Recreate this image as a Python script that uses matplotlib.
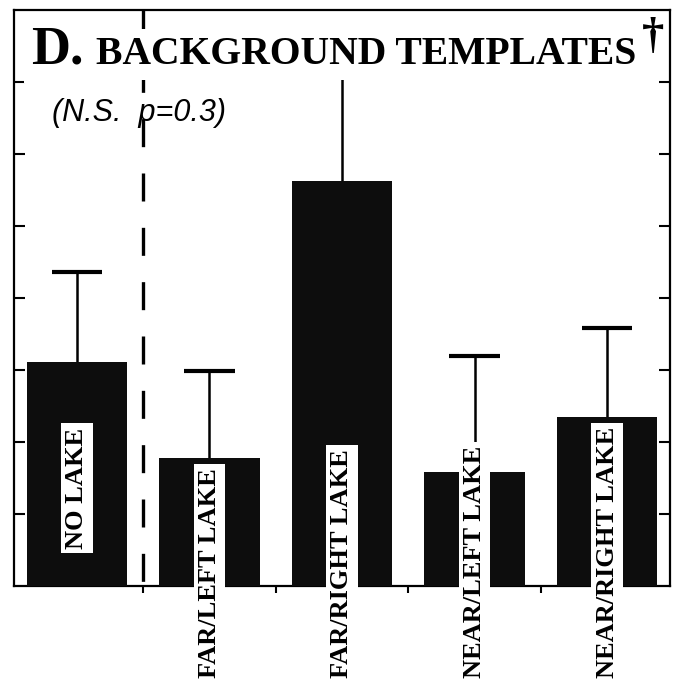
import matplotlib
matplotlib.use("Agg")
import matplotlib.pyplot as plt
import matplotlib.transforms as mtransforms

# bar data (arbitrary units, axis runs 0..8)
categories = ["NO LAKE", "FAR/LEFT LAKE", "FAR/RIGHT LAKE", "NEAR/LEFT LAKE", "NEAR/RIGHT LAKE"]
means = [3.11, 1.78, 5.63, 1.59, 2.35]
upper = [4.36, 2.99, 7.55, 3.19, 3.58]   # top of each error bar
yticks = [1, 2, 3, 4, 5, 6, 7]
xticks = [0.5, 1.5, 2.5, 3.5]
divider_x = 0.5

W, H = 679, 685
fig = plt.figure(figsize=(W / 100, H / 100), dpi=100)
ax = fig.add_axes([14 / W, 1 - 586 / H, (670 - 14) / W, (586 - 10) / H])

x = list(range(len(categories)))
ax.bar(x, means, width=0.76, color="#0d0d0d", edgecolor="none", zorder=3)

# upper-only error bars
ax.vlines(x, means, upper, color="black", lw=1.8, zorder=2)
ax.hlines(upper, [i - 0.19 for i in x], [i + 0.19 for i in x], color="black", lw=3, zorder=2)

# dashed divider, dash phase starting at the top
ax.plot([divider_x, divider_x], [8, 0], color="black", lw=2.4,
        linestyle=(0, (8.4, 7.9)), zorder=4)

ax.set_xlim(-0.475, 4.475)
ax.set_ylim(0, 8)
ax.set_yticks(yticks)
ax.set_xticks(xticks)
ax.tick_params(axis="y", direction="in", length=8, width=1.5, left=True, right=True,
               labelleft=False)
ax.tick_params(axis="x", direction="out", length=5, width=1.5, labelbottom=False)
for s in ax.spines.values():
    s.set_linewidth(1.6)

# category labels in white boxes, reading bottom-to-top
trans = mtransforms.blended_transform_factory(ax.transData, ax.transAxes)
lab_kw = dict(rotation=90, ha="center", va="bottom", fontsize=19, fontweight="bold",
              family="Liberation Serif", zorder=6, clip_on=False,
              bbox=dict(facecolor="white", edgecolor="none", pad=3))
ax.text(x[0], 0.52, categories[0], **lab_kw)
for i in x[1:]:
    ax.text(i, -0.16, categories[i], transform=trans, **lab_kw)

# title
title_box = dict(facecolor="white", edgecolor="none", pad=5)
fig.text(31 / W, 1 - 64 / H, "D.", fontsize=39, fontweight="bold", family="Liberation Serif",
         ha="left", va="baseline", bbox=title_box, zorder=10)
fig.text(96 / W, 1 - 64 / H, "BACKGROUND TEMPLATES", fontsize=28.5, fontweight="bold",
         family="Liberation Serif", ha="left", va="baseline", bbox=title_box, zorder=10)
fig.text(653 / W, 1 - 37 / H, "\u2020", fontsize=32, fontweight="bold", family="Liberation Serif",
         ha="center", va="center", zorder=10)

fig.text(52 / W, 1 - 113 / H, "(N.S.  p=0.3)", fontsize=22, style="italic",
         family="Liberation Sans", ha="left", va="center", zorder=10)

fig.savefig("out.png", dpi=100)
